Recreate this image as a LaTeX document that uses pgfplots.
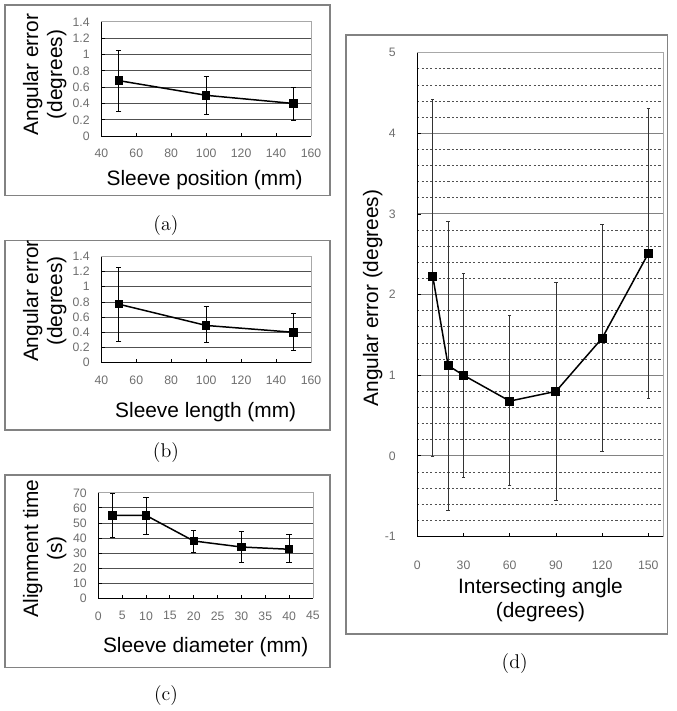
\documentclass[border=0pt]{standalone}
\usepackage{pgfplots}
\pgfplotsset{compat=1.18}
\usepackage{fontspec}
\newfontfamily\gothic{Liberation Sans}
\definecolor{TG}{RGB}{110,110,110}
\definecolor{GR}{RGB}{80,80,80}
\definecolor{FR}{RGB}{130,130,130}
\newcommand\tickf{\gothic\fontsize{7.4}{8}\selectfont}
\newcommand\labf{\gothic\fontsize{12.6}{14.4}\selectfont}
\newcommand\capf{\fontsize{12}{14}\selectfont}
\pgfplotsset{
  panel/.style={
    scale only axis, anchor=south west,
    axis lines*=left,
    axis line style={black, line width=0.6pt},
    tick align=inside, major tick length=2pt,
    tick style={black, line width=0.5pt},
    ticklabel style={font=\tickf, text=TG},
    xticklabel style={yshift=-4.5pt},
    yticklabel style={xshift=-3.5pt},
    /pgf/number format/assume math mode=true,
    ymajorgrids, grid style={GR, line width=0.5pt},
    after end axis/.code={\draw[FR!70, line width=0.5pt]
      (rel axis cs:0,1) -- (rel axis cs:1,1) -- (rel axis cs:1,0);},
  },
  dat/.style={black, line width=0.9pt, mark=square*, mark size=2.1pt,
    error bars/y dir=both, error bars/y explicit,
    error bars/error bar style={line width=0.6pt, black},
    error bars/error mark options={rotate=90, mark size=1.6pt, line width=0.6pt}},
}
\begin{document}
\begin{tikzpicture}
% (a)
\begin{axis}[panel, at={(61.2pt,344.4pt)}, width=126.6pt, height=69pt,
  xmin=40, xmax=160, xtick={40,60,...,160},
  ymin=0, ymax=1.4, ytick={0,0.2,...,1.4}]
\addplot[dat] coordinates {
  (50,0.68) += (0,0.37) -= (0,0.38)
  (100,0.50) += (0,0.23) -= (0,0.23)
  (150,0.40) += (0,0.20) -= (0,0.21)};
\end{axis}
% (b)
\begin{axis}[panel, at={(61.2pt,207.6pt)}, width=126.6pt, height=64.2pt,
  xmin=40, xmax=160, xtick={40,60,...,160},
  ymin=0, ymax=1.4, ytick={0,0.2,...,1.4}]
\addplot[dat] coordinates {
  (50,0.77) += (0,0.48) -= (0,0.49)
  (100,0.49) += (0,0.25) -= (0,0.23)
  (150,0.40) += (0,0.25) -= (0,0.24)};
\end{axis}
% (c)
\begin{axis}[panel, at={(59.4pt,65.4pt)}, width=129.6pt, height=63.6pt,
  xmin=0, xmax=45, xtick={0,5,...,45},
  ymin=0, ymax=70, ytick={0,10,...,70}]
\addplot[dat] coordinates {
  (3,55) += (0,14.5) -= (0,15)
  (10,55) += (0,12) -= (0,13)
  (20,38) += (0,7.3) -= (0,7.5)
  (30,34) += (0,10.2) -= (0,10.6)
  (40,32.5) += (0,9.7) -= (0,9.1)};
\end{axis}
% (d)
\begin{axis}[panel, at={(252pt,102.6pt)}, width=148.8pt, height=292.2pt,
  xmin=0, xmax=160, xtick={0,30,...,150},
  ymin=-1, ymax=5, ytick={-1,0,...,5},
  xticklabel style={yshift=-6.5pt},
  yticklabel style={xshift=-6pt},
  minor y tick num=4, yminorgrids,
  minor y tick style={draw=none},
  major grid style={FR, line width=0.6pt},
  minor grid style={GR, line width=0.5pt, dash pattern=on 1.3pt off 1.3pt}]
\addplot[dat, mark size=2.3pt, error bars/error bar style={line width=0.4pt, black!80},
  error bars/error mark options={rotate=90, mark size=1pt, line width=0.4pt}]
  coordinates {
  (10,2.23) += (0,2.19) -= (0,2.23)
  (20,1.12) += (0,1.79) -= (0,1.79)
  (30,1.00) += (0,1.27) -= (0,1.26)
  (60,0.68) += (0,1.06) -= (0,1.04)
  (90,0.80) += (0,1.35) -= (0,1.35)
  (120,1.46) += (0,1.41) -= (0,1.40)
  (150,2.51) += (0,1.80) -= (0,1.79)};
\end{axis}
\begin{scope}[x=0.6pt, y=0.6pt]
\path (0,0) rectangle (681,711);
% frames
\draw[FR, line width=0.9pt] (5,514) rectangle (332,706);
\draw[FR, line width=0.9pt] (5,278) rectangle (332,469);
\draw[FR, line width=0.9pt] (5,39) rectangle (332,233);
\draw[FR, line width=0.9pt] (348,73) rectangle (672,676);
% labels
\node[font=\labf] at (206,530) {Sleeve position (mm)};
\node[font=\labf, rotate=90, align=center] at (45,636) {Angular error\\(degrees)};
\node[font=\labf] at (207,296) {Sleeve length (mm)};
\node[font=\labf, rotate=90, align=center] at (45,408) {Angular error\\(degrees)};
\node[font=\labf] at (207,60) {Sleeve diameter (mm)};
\node[font=\labf, rotate=90, align=center] at (45,159) {Alignment time\\(s)};
\node[font=\labf, align=center] at (544,107) {Intersecting angle\\(degrees)};
\node[font=\labf, rotate=90] at (375,411) {Angular error (degrees)};
% captions
\node[font=\capf] at (167,484) {(a)};
\node[font=\capf] at (167,256) {(b)};
\node[font=\capf] at (167,11) {(c)};
\node[font=\capf] at (518,43) {(d)};
\end{scope}
\end{tikzpicture}
\end{document}
